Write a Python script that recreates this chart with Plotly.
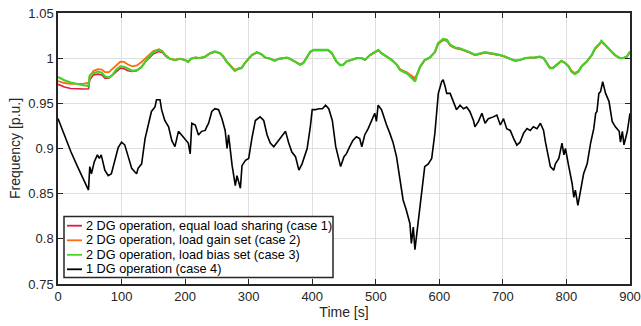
import plotly.graph_objects as go

# ---------------- data ----------------
t_up = [0, 10, 20, 30, 40, 48, 50, 56, 63, 69, 74, 80, 86, 91, 98, 104, 110, 117, 124, 131,
        136, 142, 150, 159, 164, 169, 176, 184, 192, 200, 205, 209, 216, 223, 231, 239, 247, 255, 260, 265,
        272, 278, 284, 289, 294, 299, 305, 313, 320, 326, 334, 341, 347, 355, 360, 365, 373, 381, 386, 391,
        397, 402, 410, 417, 425, 431, 438, 444, 449, 454, 462, 470, 478, 483, 491, 499, 504, 509, 517, 525,
        533, 538, 543, 549, 554, 559, 562, 564, 570, 577, 585, 593, 598, 606, 612, 617, 625, 632, 640, 648,
        656, 664, 672, 680, 688, 695, 703, 711, 719, 727, 735, 743, 750, 758, 764, 769, 774, 779, 785, 792,
        798, 803, 808, 813, 819, 824, 832, 840, 845, 853, 855, 861, 868, 876, 884, 889, 895, 900]

case1 = [0.9710, 0.9680, 0.9665, 0.9658, 0.9658, 0.9662, 0.9760, 0.9815, 0.9823, 0.9815, 0.9779, 0.9779, 0.9810, 0.9845, 0.9890, 0.9882, 0.9860, 0.9852, 0.9860, 0.9900,
         0.9950, 0.9995, 1.0048, 1.0074, 1.0062, 1.0025, 0.9990, 0.9980, 0.9992, 0.9979, 0.9960, 0.9992, 1.0005, 1.0000, 1.0013, 1.0050, 1.0070, 1.0052, 1.0018, 0.9966,
         0.9912, 0.9866, 0.9884, 0.9892, 0.9944, 0.9990, 1.0033, 1.0062, 1.0042, 1.0006, 0.9993, 0.9972, 0.9992, 0.9999, 1.0005, 0.9993, 0.9965, 0.9929, 0.9946, 0.9998,
         1.0068, 1.0086, 1.0087, 1.0088, 1.0086, 1.0052, 0.9965, 0.9924, 0.9928, 0.9963, 0.9980, 0.9999, 0.9999, 0.9981, 1.0033, 1.0060, 1.0085, 1.0052, 1.0017, 0.9981,
         0.9930, 0.9876, 0.9857, 0.9840, 0.9808, 0.9778, 0.9768, 0.9805, 0.9905, 0.9978, 1.0005, 1.0066, 1.0155, 1.0200, 1.0192, 1.0140, 1.0110, 1.0102, 1.0085, 1.0060,
         1.0033, 1.0050, 1.0060, 1.0050, 1.0043, 1.0033, 1.0015, 0.9993, 0.9972, 0.9980, 0.9999, 1.0005, 1.0005, 1.0015, 0.9999, 0.9948, 0.9893, 0.9893, 0.9927, 0.9969,
         0.9946, 0.9913, 0.9857, 0.9832, 0.9855, 0.9910, 0.9962, 1.0033, 1.0102, 1.0158, 1.0183, 1.0142, 1.0088, 1.0034, 1.0000, 1.0000, 1.0016, 1.0068]

case2 = [0.9747, 0.9725, 0.9715, 0.9713, 0.9718, 0.9725, 0.9800, 0.9860, 0.9878, 0.9874, 0.9845, 0.9845, 0.9880, 0.9915, 0.9960, 0.9958, 0.9930, 0.9910, 0.9919, 0.9955,
         0.9985, 1.0030, 1.0078, 1.0098, 1.0078, 1.0035, 0.9995, 0.9982, 0.9994, 0.9981, 0.9962, 0.9994, 1.0007, 1.0001, 1.0015, 1.0053, 1.0071, 1.0054, 1.0020, 0.9968,
         0.9915, 0.9870, 0.9887, 0.9895, 0.9946, 0.9992, 1.0034, 1.0063, 1.0043, 1.0007, 0.9994, 0.9973, 0.9993, 1.0000, 1.0006, 0.9994, 0.9966, 0.9932, 0.9948, 0.9999,
         1.0070, 1.0088, 1.0089, 1.0089, 1.0088, 1.0053, 0.9966, 0.9926, 0.9930, 0.9964, 0.9981, 1.0000, 1.0000, 0.9982, 1.0034, 1.0062, 1.0087, 1.0053, 1.0018, 0.9982,
         0.9932, 0.9880, 0.9860, 0.9845, 0.9815, 0.9790, 0.9780, 0.9810, 0.9905, 0.9978, 1.0006, 1.0068, 1.0158, 1.0205, 1.0195, 1.0142, 1.0112, 1.0104, 1.0087, 1.0062,
         1.0034, 1.0052, 1.0062, 1.0052, 1.0045, 1.0034, 1.0016, 0.9994, 0.9973, 0.9981, 1.0000, 1.0006, 1.0006, 1.0016, 1.0000, 0.9950, 0.9895, 0.9896, 0.9928, 0.9970,
         0.9948, 0.9915, 0.9860, 0.9835, 0.9858, 0.9912, 0.9963, 1.0034, 1.0104, 1.0160, 1.0186, 1.0144, 1.0090, 1.0035, 1.0001, 1.0001, 1.0017, 1.0070]

case3 = [0.9791, 0.9755, 0.9730, 0.9712, 0.9700, 0.9692, 0.9810, 0.9834, 0.9852, 0.9840, 0.9797, 0.9786, 0.9815, 0.9870, 0.9908, 0.9904, 0.9880, 0.9860, 0.9867, 0.9897,
         0.9945, 1.0007, 1.0066, 1.0092, 1.0074, 1.0030, 0.9993, 0.9980, 0.9993, 0.9978, 0.9956, 0.9993, 1.0007, 1.0000, 1.0015, 1.0055, 1.0074, 1.0055, 1.0018, 0.9963,
         0.9908, 0.9860, 0.9882, 0.9890, 0.9945, 0.9993, 1.0037, 1.0066, 1.0044, 1.0007, 0.9993, 0.9970, 0.9993, 1.0000, 1.0007, 0.9993, 0.9963, 0.9926, 0.9945, 1.0000,
         1.0074, 1.0092, 1.0092, 1.0092, 1.0092, 1.0055, 0.9963, 0.9920, 0.9926, 0.9963, 0.9980, 1.0000, 1.0000, 0.9980, 1.0037, 1.0066, 1.0092, 1.0055, 1.0018, 0.9980,
         0.9926, 0.9870, 0.9850, 0.9830, 0.9797, 0.9760, 0.9742, 0.9797, 0.9910, 0.9980, 1.0007, 1.0068, 1.0166, 1.0214, 1.0203, 1.0148, 1.0118, 1.0110, 1.0092, 1.0066,
         1.0037, 1.0055, 1.0066, 1.0055, 1.0048, 1.0037, 1.0018, 0.9993, 0.9970, 0.9980, 1.0000, 1.0007, 1.0007, 1.0018, 1.0000, 0.9945, 0.9890, 0.9890, 0.9926, 0.9970,
         0.9945, 0.9910, 0.9850, 0.9823, 0.9850, 0.9910, 0.9963, 1.0037, 1.0110, 1.0166, 1.0192, 1.0148, 1.0092, 1.0037, 1.0000, 1.0000, 1.0018, 1.0074]

t_dg1 = [0, 10, 20, 30, 40, 48, 50, 52.6, 57, 62, 65, 68, 73.7, 79, 84, 89.5, 94.7, 100, 105, 110.5,
         116, 121, 123.7, 126, 131.6, 137, 142, 147, 152.6, 155, 160.5, 163, 168, 174, 179, 184, 189.5, 194.7, 200, 205,
         208, 210.5, 216, 221, 226, 231.6, 234, 237, 242, 247, 252.6, 258, 263, 266, 268.4, 274, 279, 281.6, 287, 289.5,
         295, 300, 305, 310.5, 318, 323.7, 329, 334, 339.5, 345, 350, 358, 363, 368, 373.7, 379, 384, 392, 397, 400,
         405, 410.5, 416, 421, 426, 431.6, 437, 444.7, 450, 453.7, 459, 464, 469.5, 474.7, 478, 482.6, 488, 493, 498.4, 501,
         503.7, 509, 511.6, 517, 522, 527, 532.6, 538, 543, 548, 551, 553.7, 556, 559, 561.6, 567, 572, 577, 582.6, 588,
         593, 598.4, 603.7, 606, 609, 611.6, 617, 622, 627, 632.6, 638, 643, 648, 653.7, 656, 661.6, 667, 672, 677, 685,
         690.5, 696, 701, 706, 711.6, 717, 722, 727, 732.6, 738, 743, 748, 753.7, 759, 764, 767, 772, 774.7, 780, 782.6,
         788, 793, 796, 798.4, 803.7, 809, 811.6, 814, 818, 822, 827, 832.6, 838, 843, 846, 848, 851, 853.7, 857, 861.6,
         867, 872, 877, 883, 885, 888, 890.5, 893, 895.8, 900]

case4 = [0.9333, 0.915, 0.897, 0.881, 0.866, 0.854, 0.880, 0.872, 0.885, 0.893, 0.889, 0.893, 0.876, 0.870, 0.872, 0.887, 0.901, 0.907, 0.904, 0.891,
         0.878, 0.874, 0.872, 0.878, 0.883, 0.911, 0.926, 0.941, 0.946, 0.954, 0.954, 0.943, 0.931, 0.924, 0.909, 0.902, 0.919, 0.915, 0.911, 0.906,
         0.894, 0.928, 0.926, 0.915, 0.919, 0.920, 0.924, 0.928, 0.941, 0.944, 0.943, 0.933, 0.920, 0.900, 0.915, 0.881, 0.859, 0.870, 0.856, 0.881,
         0.887, 0.889, 0.911, 0.931, 0.935, 0.931, 0.915, 0.906, 0.902, 0.907, 0.911, 0.919, 0.906, 0.896, 0.891, 0.876, 0.883, 0.900, 0.924, 0.943,
         0.943, 0.944, 0.944, 0.948, 0.944, 0.931, 0.902, 0.880, 0.891, 0.894, 0.902, 0.909, 0.913, 0.911, 0.902, 0.915, 0.922, 0.930, 0.939, 0.930,
         0.948, 0.943, 0.937, 0.926, 0.917, 0.907, 0.891, 0.865, 0.843, 0.832, 0.824, 0.817, 0.795, 0.813, 0.788, 0.821, 0.854, 0.880, 0.883, 0.889,
         0.917, 0.961, 0.974, 0.976, 0.969, 0.961, 0.961, 0.952, 0.943, 0.948, 0.944, 0.946, 0.941, 0.931, 0.924, 0.930, 0.939, 0.928, 0.933, 0.935,
         0.937, 0.926, 0.933, 0.922, 0.920, 0.911, 0.9037, 0.907, 0.917, 0.922, 0.920, 0.924, 0.922, 0.928, 0.920, 0.907, 0.891, 0.880, 0.876, 0.883,
         0.889, 0.906, 0.893, 0.900, 0.880, 0.861, 0.846, 0.854, 0.837, 0.854, 0.872, 0.883, 0.906, 0.922, 0.939, 0.941, 0.961, 0.963, 0.974, 0.961,
         0.952, 0.930, 0.924, 0.919, 0.907, 0.919, 0.904, 0.911, 0.919, 0.939]

names = ["2 DG operation, equal load sharing (case 1)",
         "2 DG operation, load gain set (case 2)",
         "2 DG operation, load bias set (case 3)",
         "1 DG operation (case 4)"]
colors = ["#E8174A", "#FF6A10", "#45D02A", "#000000"]

x_ticks = [0, 100, 200, 300, 400, 500, 600, 700, 800, 900]
y_ticks = [0.75, 0.8, 0.85, 0.9, 0.95, 1.0, 1.05]
y_tick_text = ["0.75", "0.8", "0.85", "0.9", "0.95", "1", "1.05"]

# ---------------- figure ----------------
AX = "#262626"
FONT = "Liberation Sans, Arial, Helvetica, sans-serif"
W, H = 641, 326
ML, MR, MT, MB = 58, 11, 13, 42
PW, PH = W - ML - MR, H - MT - MB


def px_x(px):
    return (px - ML) / PW


def px_y(py):
    return (H - MB - py) / PH


fig = go.Figure()
widths = [1.6, 1.8, 2.2, 1.6]
for xs, ys, nm, col, lw in zip([t_up, t_up, t_up, t_dg1], [case1, case2, case3, case4],
                               names, colors, widths):
    fig.add_trace(go.Scatter(x=xs, y=ys, mode="lines", name=nm,
                             line=dict(color=col, width=lw), showlegend=False))

axis_common = dict(
    showline=True, linecolor=AX, linewidth=1.5, mirror="ticks",
    ticks="inside", ticklen=5, tickwidth=1.2, tickcolor=AX,
    showgrid=True, gridcolor="#DFDFDF", gridwidth=1.3,
    zeroline=False, automargin=False,
    tickfont=dict(family=FONT, size=13, color=AX),
)

# legend box (MATLAB-style, compact)
shapes = [dict(type="rect", xref="paper", yref="paper",
               x0=px_x(64), x1=px_x(333), y0=px_y(277.5), y1=px_y(216.5),
               line=dict(color=AX, width=1.5), fillcolor="white", layer="above")]
annotations = []
row_y = [225.7, 240.3, 254.8, 269.3]
for nm, col, ry in zip(names, colors, row_y):
    shapes.append(dict(type="line", xref="paper", yref="paper",
                       x0=px_x(67), x1=px_x(82), y0=px_y(ry), y1=px_y(ry),
                       line=dict(color=col, width=1.8), layer="above"))
    annotations.append(dict(xref="paper", yref="paper", x=px_x(84), y=px_y(ry),
                            xanchor="left", yanchor="middle", showarrow=False,
                            text=nm, font=dict(family=FONT, size=12.7, color="#000000")))

fig.update_layout(
    width=W, height=H,
    margin=dict(l=ML, r=MR, t=MT, b=MB),
    paper_bgcolor="white", plot_bgcolor="white",
    font=dict(family=FONT, size=13, color=AX),
    xaxis=dict(range=[0, 900], tickvals=x_ticks,
               title=dict(text="Time [s]", font=dict(family=FONT, size=14, color=AX), standoff=3),
               **axis_common),
    yaxis=dict(range=[0.75, 1.05], tickvals=y_ticks, ticktext=y_tick_text,
               title=dict(text="Frequency [p.u.]", font=dict(family=FONT, size=14, color=AX), standoff=4),
               **axis_common),
    shapes=shapes,
    annotations=annotations,
    showlegend=False,
)

fig.write_html("out.html")
